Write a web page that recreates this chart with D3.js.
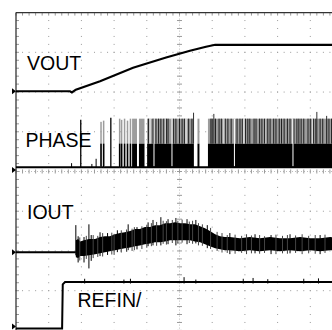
<!DOCTYPE html>
<html><head><meta charset="utf-8">
<script src="https://cdn.jsdelivr.net/npm/d3@7"></script>
<style>html,body{margin:0;padding:0;background:#fff;overflow:hidden}</style>
</head><body><svg id="c" width="332" height="330"></svg>
<script>
// ---------- DATA (scope divisions: time 0..10, volts -4..4) ----------
const channelNames = ["VOUT", "PHASE", "IOUT", "REFIN/"];
const channelGround = [2.02, 0.04, -2.03, -3.90];

// VOUT trace
const voutT = [0, 1.65, 1.71, 1.83, 2.57, 3.58, 4.59, 5.32, 5.81, 6.09, 10];
const voutV = [2.02, 2.02, 1.99, 2.06, 2.27, 2.61, 2.87, 3.04, 3.14, 3.19, 3.19];

// REFIN trace
const refinT = [0, 1.41, 1.43, 1.50, 10];
const refinV = [-3.95, -3.95, -2.84, -2.78, -2.78];
const refinGlitchT = [2.1, 3.3, 3.5, 5.14, 5.5, 6.95, 7.25, 7.7, 8.8, 9.25];
const refinGlitchV = [-2.70, -2.72, -2.70, -2.66, -2.72, -2.70, -2.68, -2.71, -2.70, -2.69];

// PHASE trace
const phaseBase = 0.11;
const phaseGrayTop = 1.33;
const phaseBlackTop = 0.70;
const phaseBursts = [[3.55, 3.70], [3.76, 3.93], [4.01, 5.44], [5.55, 5.61], [5.87, 10]];
const phasePulseT = [2.60, 2.68, 3.17, 3.23, 3.32, 3.41, 3.50];
const phasePulseV = [1.25, 1.28, 1.33, 1.30, 1.33, 1.28, 1.33];
const phaseTallT = [1.98, 2.90];
const phaseTallV = [1.30, 1.35];
const phaseSmallT = [1.70, 2.32, 2.45];
const phaseSmallV = [0.21, 0.19, 0.32];
const phaseHighT = [5.43, 6.05, 9.20, 9.50];
const phaseHighV = [1.48, 1.45, 1.50, 1.40];
const phaseGrayGapT = [4.10, 4.56, 5.20, 6.36, 6.97, 7.61, 8.47, 9.08];
const phaseDarkT = [4.05, 4.19, 4.28, 4.36, 4.43, 4.52, 4.60, 4.65, 4.82, 4.89, 5.00, 5.08, 5.15, 5.28, 5.38,
  5.96, 6.00, 6.10, 6.21, 6.28, 6.40, 6.48, 6.58, 6.76, 6.85, 6.92, 7.02, 7.09, 7.15, 7.28, 7.34, 7.45, 7.52,
  7.60, 7.70, 7.77, 7.88, 7.95, 8.05, 8.12, 8.20, 8.30, 8.38, 8.50, 8.59, 8.65, 8.72, 8.80, 8.93, 9.00, 9.10,
  9.17, 9.30, 9.38, 9.50, 9.57, 9.65, 9.80, 9.90];
const phaseFullGapT = [4.22, 4.77, 6.68, 8.47];

// IOUT trace
const ioutBaseV = -2.03;
const ioutStartT = 1.83;
const ioutT = [1.83, 1.90, 1.96, 2.08, 2.23, 2.42, 2.57, 2.72, 2.87, 3.03, 3.18, 3.33, 3.49, 3.64, 3.79, 3.94, 4.10, 4.25, 4.40, 4.56, 4.71, 4.86, 5.02, 5.17, 5.32, 5.47, 5.63, 5.78, 5.93, 6.09, 6.24, 6.39, 6.54, 6.85, 7.15, 7.46, 7.77, 8.07, 8.38, 8.69, 9.00, 9.30, 9.61, 10];
const ioutHi = [-1.73, -1.70, -1.76, -1.73, -1.70, -1.70, -1.65, -1.63, -1.63, -1.58, -1.55, -1.53, -1.50, -1.45, -1.45, -1.40, -1.40, -1.35, -1.35, -1.30, -1.30, -1.28, -1.30, -1.30, -1.33, -1.33, -1.38, -1.43, -1.50, -1.58, -1.63, -1.65, -1.65, -1.68, -1.65, -1.68, -1.65, -1.68, -1.68, -1.65, -1.68, -1.68, -1.65, -1.68];
const ioutLo = [-2.16, -2.18, -2.13, -2.13, -2.11, -2.08, -2.06, -2.03, -2.01, -1.98, -1.96, -1.93, -1.91, -1.88, -1.86, -1.83, -1.81, -1.78, -1.78, -1.76, -1.73, -1.73, -1.73, -1.73, -1.73, -1.76, -1.78, -1.83, -1.88, -1.93, -1.96, -1.98, -1.98, -2.01, -1.98, -2.01, -1.98, -2.01, -1.98, -2.01, -1.98, -2.01, -1.98, -2.01];
const ioutSpikeT  = [1.83, 1.90, 2.08, 2.23, 2.30, 2.57, 2.80, 3.10, 3.43, 3.70, 4.04, 4.19, 4.43, 4.65, 4.89, 5.23, 5.50, 5.85, 6.54, 7.31, 7.80, 8.38, 9.30];
const ioutSpikeHi = [-1.35, -1.63, -1.65, -1.33, -1.60, -1.53, -1.55, -1.48, -1.33, -1.40, -1.28, -1.22, -1.15, -1.20, -1.17, -1.20, -1.22, -1.35, -1.55, -1.58, -1.60, -1.58, -1.60];
const ioutSpikeLo = [-2.11, -2.29, -2.29, -2.44, -2.25, -2.13, -2.10, -2.03, -1.98, -1.96, -1.88, -1.86, -1.86, -1.83, -1.86, -1.83, -1.81, -1.93, -2.08, -2.06, -2.08, -2.06, -2.08];
const ioutFuzzT  = [1.95, 2.15, 2.36, 2.50, 2.65, 2.93, 3.00, 3.22, 3.38, 3.55, 3.62, 3.85, 4.00, 4.14, 4.30, 4.50, 4.60, 4.78, 4.95, 5.08, 5.30, 5.40, 5.58, 5.70, 5.95, 6.15, 6.30, 6.46, 6.70, 6.90, 7.05, 7.20, 7.45, 7.60, 7.95, 8.15, 8.30, 8.55, 8.75, 8.95, 9.15, 9.45, 9.70, 9.85];
const ioutFuzzHi = [-1.66, -1.62, -1.60, -1.62, -1.55, -1.54, -1.57, -1.48, -1.46, -1.44, -1.40, -1.38, -1.34, -1.30, -1.27, -1.24, -1.25, -1.22, -1.24, -1.21, -1.26, -1.24, -1.30, -1.33, -1.42, -1.52, -1.55, -1.60, -1.59, -1.62, -1.58, -1.61, -1.60, -1.63, -1.59, -1.62, -1.60, -1.61, -1.58, -1.62, -1.60, -1.59, -1.62, -1.60];
const ioutFuzzLo = [-2.24, -2.20, -2.18, -2.15, -2.14, -2.09, -2.10, -2.04, -2.02, -2.00, -1.98, -1.95, -1.92, -1.88, -1.87, -1.82, -1.84, -1.80, -1.81, -1.79, -1.80, -1.82, -1.86, -1.87, -1.95, -2.00, -2.04, -2.05, -2.07, -2.05, -2.08, -2.06, -2.07, -2.05, -2.08, -2.06, -2.07, -2.05, -2.08, -2.06, -2.07, -2.05, -2.08, -2.06];

// ---------- DRAW ----------
const svg = d3.select("#c");
const x = d3.scaleLinear().domain([0, 10]).range([16, 343]);
const y = d3.scaleLinear().domain([-4, 4]).range([330.4, 12.6]);
const gridCol = "#9a9a9a";

const grid = svg.append("g");
const sub = d3.range(0, 10.001, 0.2);
const subV = d3.range(-4, 4.001, 0.2);
for (let t = 1; t <= 9; t++) {
  if (t === 5) continue;
  grid.selectAll(null).data(subV).join("rect")
    .attr("x", x(t) - 0.5).attr("y", d => y(d) - 0.5).attr("width", 1).attr("height", 1).attr("fill", gridCol);
}
for (let v = -3; v <= 3; v++) {
  if (v === 0) continue;
  grid.selectAll(null).data(sub).join("rect")
    .attr("x", d => x(d) - 0.5).attr("y", y(v) - 0.5).attr("width", 1).attr("height", 1).attr("fill", gridCol);
}
grid.append("line").attr("x1", x(5)).attr("x2", x(5)).attr("y1", y(4)).attr("y2", y(-4))
  .attr("stroke", "#bdbdbd").attr("stroke-dasharray", "1,2");
grid.append("line").attr("x1", x(0)).attr("x2", x(10)).attr("y1", y(0)).attr("y2", y(0))
  .attr("stroke", "#bdbdbd").attr("stroke-dasharray", "1,2");
grid.selectAll(null).data(subV).join("line")
  .attr("x1", x(5) - 2.5).attr("x2", x(5) + 2.5).attr("y1", d => y(d)).attr("y2", d => y(d))
  .attr("stroke", gridCol);
grid.selectAll(null).data(sub).join("line")
  .attr("x1", d => x(d)).attr("x2", d => x(d)).attr("y1", y(0) - 2).attr("y2", y(0) + 2)
  .attr("stroke", gridCol);
grid.selectAll(null).data(sub).join("line")
  .attr("x1", d => x(d)).attr("x2", d => x(d)).attr("y1", y(4)).attr("y2", y(4) + 3)
  .attr("stroke", gridCol);
grid.selectAll(null).data(subV).join("line")
  .attr("x1", x(0)).attr("x2", x(0) + 3).attr("y1", d => y(d)).attr("y2", d => y(d))
  .attr("stroke", gridCol);
grid.append("line").attr("x1", x(0)).attr("x2", x(10)).attr("y1", y(4)).attr("y2", y(4))
  .attr("stroke", "#333").attr("stroke-width", 1.3);
grid.append("line").attr("x1", x(0)).attr("x2", x(0)).attr("y1", y(4)).attr("y2", y(-4))
  .attr("stroke", "#333").attr("stroke-width", 1.3);

svg.selectAll(null).data(channelGround).join("path")
  .attr("d", d => `M${x(0) - 4},${y(d) - 3}L${x(0)},${y(d)}L${x(0) - 4},${y(d) + 3}Z`)
  .attr("fill", "#000");

const labelPos = [[27, 70], [25.5, 147.3], [27, 218.5], [77.5, 307]];
svg.selectAll(null).data(channelNames).join("text")
  .attr("x", (d, i) => labelPos[i][0]).attr("y", (d, i) => labelPos[i][1])
  .attr("font-family", "'Liberation Sans', Arial, sans-serif").attr("font-size", 19.5)
  .attr("fill", "#000").text(d => d);

const line = d3.line().x(d => x(d[0])).y(d => y(d[1]));

// VOUT
svg.append("path").attr("d", line(d3.zip(voutT, voutV)))
  .attr("fill", "none").attr("stroke", "#000").attr("stroke-width", 2.2);

// REFIN
svg.append("path").attr("d", line(d3.zip(refinT, refinV)))
  .attr("fill", "none").attr("stroke", "#000").attr("stroke-width", 2);
svg.selectAll(null).data(d3.zip(refinGlitchT, refinGlitchV)).join("line")
  .attr("x1", d => x(d[0])).attr("x2", d => x(d[0])).attr("y1", d => y(d[1])).attr("y2", y(-2.82))
  .attr("stroke", "#000").attr("stroke-width", 1);

// PHASE
const ph = svg.append("g");
ph.append("line").attr("x1", x(0)).attr("x2", x(10)).attr("y1", y(phaseBase)).attr("y2", y(phaseBase))
  .attr("stroke", "#000").attr("stroke-width", 2);
ph.selectAll(null).data(phaseBursts).join("rect")
  .attr("x", d => x(d[0])).attr("width", d => x(d[1]) - x(d[0]))
  .attr("y", y(phaseGrayTop)).attr("height", y(phaseBlackTop) - y(phaseGrayTop)).attr("fill", "#9c9c9c");
ph.selectAll(null).data(phaseBursts).join("rect")
  .attr("x", d => x(d[0])).attr("width", d => x(d[1]) - x(d[0]))
  .attr("y", y(phaseBlackTop)).attr("height", y(phaseBase) - y(phaseBlackTop)).attr("fill", "#000");
ph.selectAll(null).data(phaseGrayGapT).join("line")
  .attr("x1", d => x(d)).attr("x2", d => x(d)).attr("y1", y(phaseGrayTop)).attr("y2", y(phaseBlackTop))
  .attr("stroke", "#fff").attr("stroke-width", 1);
ph.selectAll(null).data(phaseFullGapT).join("line")
  .attr("x1", d => x(d)).attr("x2", d => x(d)).attr("y1", y(phaseGrayTop)).attr("y2", y(phaseBase) - 1)
  .attr("stroke", "#fff").attr("stroke-width", 1);
ph.selectAll(null).data(phaseDarkT).join("line")
  .attr("x1", d => x(d)).attr("x2", d => x(d)).attr("y1", y(phaseGrayTop)).attr("y2", y(phaseBlackTop))
  .attr("stroke", "#111").attr("stroke-width", 0.9);
const pulses = d3.zip(phasePulseT, phasePulseV);
ph.selectAll(null).data(pulses).join("rect")
  .attr("x", d => x(d[0]) - 0.75).attr("width", 1.5)
  .attr("y", d => y(d[1])).attr("height", d => y(phaseBase) - y(d[1])).attr("fill", "#9c9c9c");
ph.selectAll(null).data(pulses).join("rect")
  .attr("x", d => x(d[0]) - 0.75).attr("width", 1.5)
  .attr("y", y(phaseBlackTop)).attr("height", y(phaseBase) - y(phaseBlackTop)).attr("fill", "#000");
ph.selectAll(null).data(d3.zip(phaseTallT, phaseTallV)).join("line")
  .attr("x1", d => x(d[0])).attr("x2", d => x(d[0])).attr("y1", d => y(d[1])).attr("y2", y(phaseBase))
  .attr("stroke", "#000").attr("stroke-width", 1.3);
ph.selectAll(null).data(d3.zip(phaseSmallT, phaseSmallV)).join("line")
  .attr("x1", d => x(d[0])).attr("x2", d => x(d[0])).attr("y1", d => y(d[1])).attr("y2", y(phaseBase))
  .attr("stroke", "#000").attr("stroke-width", 1);
ph.selectAll(null).data(d3.zip(phaseHighT, phaseHighV)).join("line")
  .attr("x1", d => x(d[0])).attr("x2", d => x(d[0])).attr("y1", d => y(d[1])).attr("y2", y(phaseBlackTop))
  .attr("stroke", "#333").attr("stroke-width", 1);

// IOUT
const io = svg.append("g");
io.append("line").attr("x1", x(0)).attr("x2", x(ioutStartT)).attr("y1", y(ioutBaseV)).attr("y2", y(ioutBaseV))
  .attr("stroke", "#000").attr("stroke-width", 2);
const area = d3.area().x(d => x(d[0])).y0(d => y(d[2])).y1(d => y(d[1]));
io.append("path").attr("d", area(d3.zip(ioutT, ioutHi, ioutLo))).attr("fill", "#000");
io.selectAll(null).data(d3.zip(ioutFuzzT, ioutFuzzHi, ioutFuzzLo)).join("line")
  .attr("x1", d => x(d[0])).attr("x2", d => x(d[0])).attr("y1", d => y(d[1])).attr("y2", d => y(d[2]))
  .attr("stroke", "#444").attr("stroke-width", 1);
io.selectAll(null).data(d3.zip(ioutSpikeT, ioutSpikeHi, ioutSpikeLo)).join("line")
  .attr("x1", d => x(d[0])).attr("x2", d => x(d[0])).attr("y1", d => y(d[1])).attr("y2", d => y(d[2]))
  .attr("stroke", "#000").attr("stroke-width", 1);
</script></body></html>
